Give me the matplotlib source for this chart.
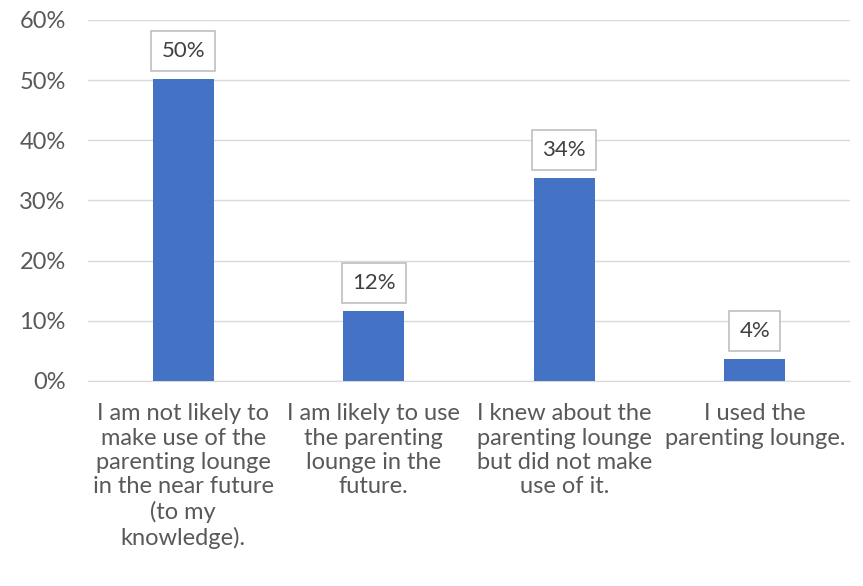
import matplotlib.pyplot as plt
from matplotlib.ticker import FuncFormatter

categories = [
    "I am not likely to\nmake use of the\nparenting lounge\nin the near future\n(to my\nknowledge).",
    "I am likely to use\nthe parenting\nlounge in the\nfuture.",
    "I knew about the\nparenting lounge\nbut did not make\nuse of it.",
    "I used the\nparenting lounge.",
]
values = [50.2, 11.7, 33.8, 3.7]
labels = ["50%", "12%", "34%", "4%"]
yticks = [0, 10, 20, 30, 40, 50, 60]

plt.rcParams['font.family'] = ['Lato', 'DejaVu Sans']

fig = plt.figure(figsize=(8.63, 5.86), dpi=100)
ax = fig.add_axes([0.102, 0.350, 0.883, 0.616])

x = range(len(categories))
bars = ax.bar(x, values, width=0.32, color='#4472C4', zorder=3)

for b, lab in zip(bars, labels):
    ax.annotate(lab, (b.get_x() + b.get_width() / 2, b.get_height()),
                xytext=(0, 20), textcoords='offset points',
                ha='center', va='center', fontsize=16, color='#404040',
                bbox=dict(boxstyle='square,pad=0.45', fc='white',
                          ec='#BFBFBF', lw=1.2), zorder=4)

ax.set_xlim(-0.5, len(categories) - 0.5)
ax.set_ylim(0, 60)
ax.set_yticks(yticks)
ax.yaxis.set_major_formatter(FuncFormatter(lambda v, p: f"{v:.0f}%"))
ax.set_xticks(list(x))
ax.set_xticklabels(categories, linespacing=1.2)

ax.tick_params(axis='y', length=0, pad=16, labelsize=17, labelcolor='#595959')
ax.tick_params(axis='x', length=0, pad=16, labelsize=17, labelcolor='#595959')

ax.grid(axis='y', color='#D9D9D9', linewidth=1, zorder=0)
for s in ['top', 'right', 'left']:
    ax.spines[s].set_visible(False)
ax.spines['bottom'].set_color('#D9D9D9')

fig.savefig('out.png', dpi=100)
